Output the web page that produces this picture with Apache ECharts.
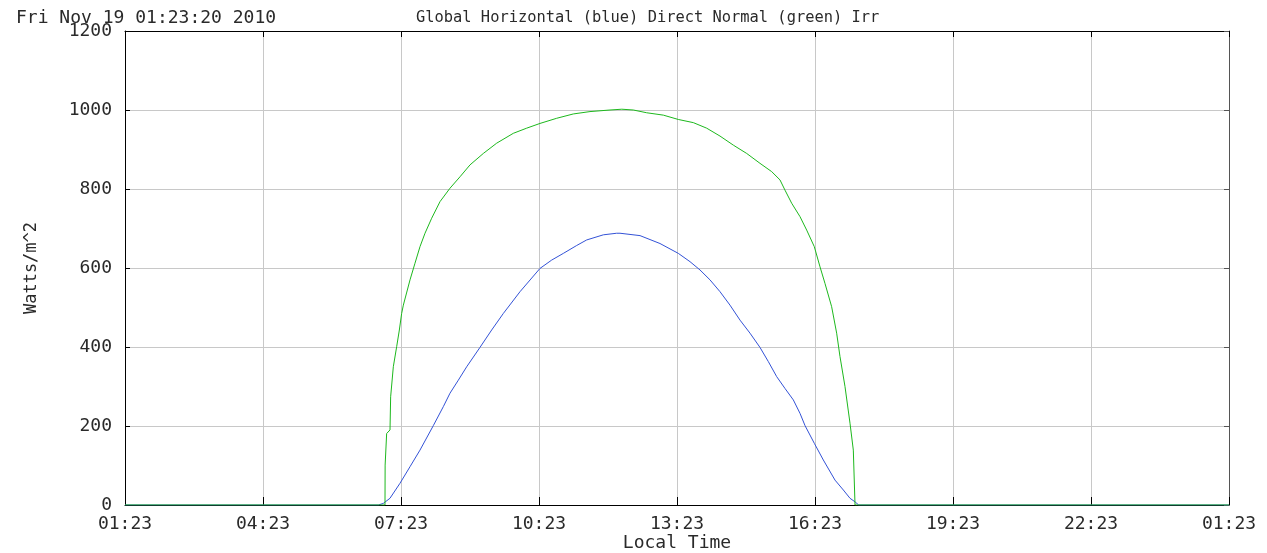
<!DOCTYPE html>
<html>
<head>
<meta charset="utf-8">
<script src="https://cdn.jsdelivr.net/npm/echarts@6/dist/echarts.min.js"></script>
<style>
html,body{margin:0;padding:0;background:#fff;}
#chart{width:1267px;height:553px;}
</style>
</head>
<body>
<div id="chart"></div>
<script>
// x values are hours elapsed since 01:23 local time
const xTickLabels = ['01:23','04:23','07:23','10:23','13:23','16:23','19:23','22:23','01:23'];
const yTickValues = [0, 200, 400, 600, 800, 1000, 1200];

const dniHours = [0, 5.652, 5.655, 5.688, 5.761, 5.775, 5.833, 5.906, 5.964, 6.014, 6.051, 6.196, 6.304, 6.413, 6.522, 6.667, 6.848, 7.065, 7.283, 7.5, 7.79, 8.08, 8.442, 8.732, 9.022, 9.384, 9.746, 10.109, 10.543, 10.8, 11.051, 11.341, 11.703, 12.029, 12.355, 12.645, 12.935, 13.225, 13.515, 13.804, 14.058, 14.239, 14.348, 14.493, 14.674, 14.819, 14.985, 15.109, 15.217, 15.362, 15.471, 15.543, 15.652, 15.761, 15.833, 15.87, 24];
const dniValues = [0, 0, 101, 181, 190, 274, 350, 401, 443, 485, 506, 570, 612, 654, 688, 726, 768, 802, 831, 861, 890, 916, 941, 954, 966, 979, 990, 996, 1000, 1002, 1000, 993, 987, 976, 968, 954, 934, 911, 890, 865, 844, 823, 797, 764, 730, 696, 654, 603, 561, 502, 435, 376, 300, 207, 139, 0, 0];

const ghiHours = [0, 5.507, 5.615, 5.76, 5.978, 6.196, 6.413, 6.703, 6.92, 7.065, 7.246, 7.428, 7.717, 7.971, 8.225, 8.587, 9.022, 9.275, 9.529, 9.819, 10.036, 10.399, 10.688, 10.761, 11.196, 11.63, 12.029, 12.283, 12.5, 12.717, 12.935, 13.152, 13.37, 13.587, 13.804, 13.986, 14.167, 14.348, 14.529, 14.674, 14.783, 14.986, 15.181, 15.435, 15.616, 15.761, 15.87, 15.95, 24];
const ghiValues = [0, 0, 4, 17, 55, 97, 139, 201, 249, 283, 316, 350, 399, 443, 485, 540, 599, 620, 637, 657, 671, 684, 688, 688, 682, 662, 637, 616, 595, 570, 540, 506, 468, 435, 399, 363, 325, 295, 266, 232, 201, 156, 114, 63, 38, 17, 8, 0, 0];

const zip = (a, b) => a.map((v, i) => [v, b[i]]);
const FONT = 'DejaVu Sans Mono';
const TXT = '#2a2a2a';

const chart = echarts.init(document.getElementById('chart'), null, {renderer: 'canvas'});
chart.setOption({
  animation: false,
  backgroundColor: '#fff',
  title: [
    {text: 'Fri Nov 19 01:23:20 2010', left: 11, top: 4,
     textStyle: {fontFamily: FONT, fontSize: 18, fontWeight: 'normal', color: TXT}},
    {text: 'Global Horizontal (blue) Direct Normal (green) Irr', left: 411, top: 5,
     textStyle: {fontFamily: FONT, fontSize: 15.4, fontWeight: 'normal', color: TXT}}
  ],
  grid: {left: 125, right: 38, top: 31, bottom: 48, containLabel: false, outerBoundsMode: 'none'},
  xAxis: [
    {type: 'value', min: 0, max: 24, interval: 3, position: 'bottom',
     name: 'Local Time', nameLocation: 'middle', nameGap: 29, nameMoveOverlap: false,
     nameTextStyle: {fontFamily: FONT, fontSize: 18, color: TXT},
     axisLine: {show: true, onZero: false, lineStyle: {color: '#000', width: 1}},
     axisTick: {show: true, inside: true, length: 8, lineStyle: {color: '#000'}},
     axisLabel: {fontFamily: FONT, fontSize: 18, color: TXT, margin: 10,
       formatter: v => xTickLabels[Math.round(v / 3)]},
     splitLine: {show: true, lineStyle: {color: '#c8c8c8', width: 1}}},
    {type: 'value', min: 0, max: 24, interval: 3, position: 'top',
     axisLine: {show: true, onZero: false, lineStyle: {color: '#000', width: 1}},
     axisTick: {show: true, inside: true, length: 6, lineStyle: {color: '#000'}},
     axisLabel: {show: false}, splitLine: {show: false}}
  ],
  yAxis: [
    {type: 'value', min: yTickValues[0], max: yTickValues[yTickValues.length - 1], interval: 200,
     name: 'Watts/m^2', nameLocation: 'middle', nameGap: 85, nameRotate: 90, nameMoveOverlap: false,
     nameTextStyle: {fontFamily: FONT, fontSize: 17, color: TXT},
     axisLine: {show: true, onZero: false, lineStyle: {color: '#000', width: 1}},
     axisTick: {show: true, inside: true, length: 5, lineStyle: {color: '#000'}},
     axisLabel: {fontFamily: FONT, fontSize: 18, color: TXT, margin: 13,
       formatter: v => String(v)},
     splitLine: {show: true, lineStyle: {color: '#c8c8c8', width: 1}}},
    {type: 'value', min: 0, max: 1200, interval: 200, position: 'right',
     axisLine: {show: true, onZero: false, lineStyle: {color: '#555', width: 1}},
     axisTick: {show: true, inside: true, length: 5, lineStyle: {color: '#555'}},
     axisLabel: {show: false}, splitLine: {show: false}}
  ],
  series: [
    {name: 'Global Horizontal', type: 'line', xAxisIndex: 0, yAxisIndex: 0,
     data: zip(ghiHours, ghiValues), showSymbol: false, symbol: 'none',
     lineStyle: {color: '#3352d6', width: 1}, z: 3},
    {name: 'Direct Normal', type: 'line', xAxisIndex: 0, yAxisIndex: 0,
     data: zip(dniHours, dniValues), showSymbol: false, symbol: 'none',
     lineStyle: {color: '#1db81d', width: 1}, z: 4}
  ]
});
</script>
</body>
</html>
